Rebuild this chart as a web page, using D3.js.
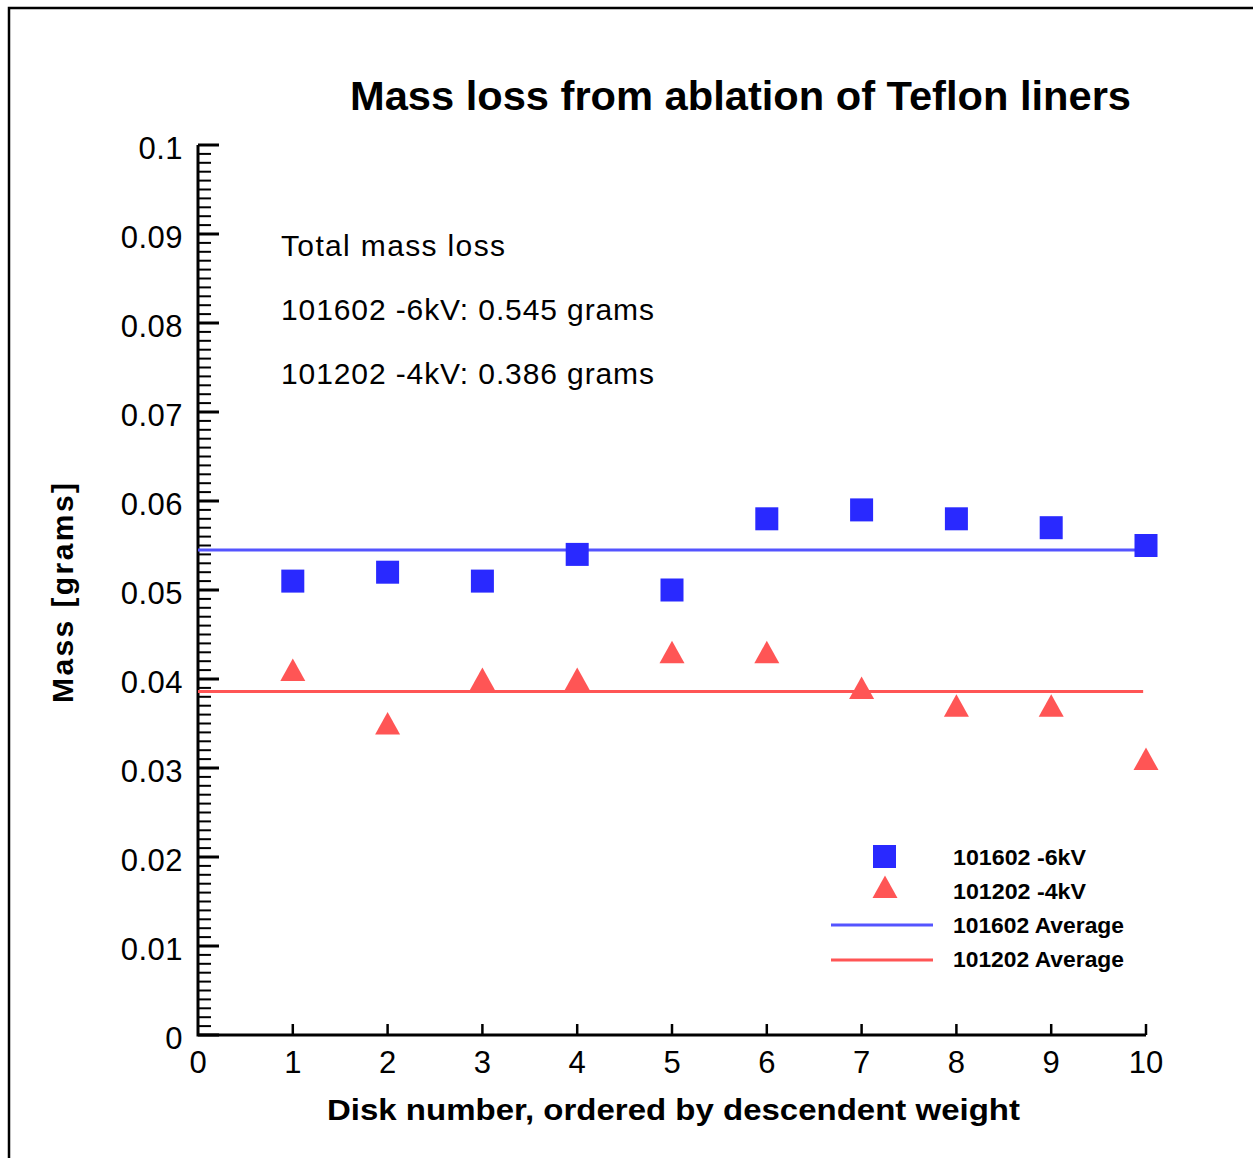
<!DOCTYPE html>
<html>
<head>
<meta charset="utf-8">
<script src="https://cdn.jsdelivr.net/npm/d3@7"></script>
<style>
  html, body { margin: 0; padding: 0; background: #fff; }
  svg { display: block; }
  text { font-family: "Liberation Sans", Arial, Helvetica, sans-serif; fill: #000; }
</style>
</head>
<body>
<svg id="chart" width="1253" height="1158"></svg>
<script>
// Disk numbers (ordered by descending weight)
const disks = [1, 2, 3, 4, 5, 6, 7, 8, 9, 10];
// Mass lost per disk, grams
const mass6kV = [0.051, 0.052, 0.051, 0.054, 0.050, 0.058, 0.059, 0.058, 0.057, 0.055];
const mass4kV = [0.041, 0.035, 0.040, 0.040, 0.043, 0.043, 0.039, 0.037, 0.037, 0.031];
// Axis ticks
const xTicks = [0, 1, 2, 3, 4, 5, 6, 7, 8, 9, 10];
const yTicks = [0, 0.01, 0.02, 0.03, 0.04, 0.05, 0.06, 0.07, 0.08, 0.09, 0.1];
const seriesNames = ["101602 -6kV", "101202 -4kV", "101602 Average", "101202 Average"];

const blueMarker = "#2929ff", blueLine = "#5454ff";
const redMarker = "#ff5555", redLine = "#ff5555";

const svg = d3.select("#chart");

// outer frame (only left and top edges fall inside the page)
svg.append("rect")
  .attr("x", 9).attr("y", 8).attr("width", 1400).attr("height", 1400)
  .attr("fill", "none").attr("stroke", "#000").attr("stroke-width", 2.5);

const x = d3.scaleLinear().domain([0, 10]).range([198, 1146]);
const y = d3.scaleLinear().domain([0, 0.1]).range([1035, 145]);

// title
svg.append("text")
  .attr("x", 350).attr("y", 110)
  .attr("font-size", 40).attr("font-weight", "bold")
  .attr("textLength", 781).attr("lengthAdjust", "spacingAndGlyphs")
  .text("Mass loss from ablation of Teflon liners");

// y axis: minor ticks every 0.001
const yMinor = d3.range(0, 101).map(i => i / 1000).filter(v => Math.round(v * 1000) % 10 !== 0);
const gy = svg.append("g");
gy.selectAll("line.minor").data(yMinor).join("line")
  .attr("x1", x(0)).attr("x2", x(0) + 13)
  .attr("y1", d => y(d)).attr("y2", d => y(d))
  .attr("stroke", "#000").attr("stroke-width", 2);
gy.selectAll("line.major").data(yTicks).join("line")
  .attr("x1", x(0)).attr("x2", x(0) + 21)
  .attr("y1", d => y(d)).attr("y2", d => y(d))
  .attr("stroke", "#000").attr("stroke-width", 3);
gy.selectAll("text").data(yTicks).join("text")
  .attr("x", 183).attr("y", d => y(d) + 13.5)
  .attr("text-anchor", "end").attr("font-size", 31)
  .attr("letter-spacing", 0.5)
  .text(d => d3.format("")(+d.toFixed(2)));

// x axis ticks point into the plot
const gx = svg.append("g");
gx.selectAll("line").data(xTicks.slice(1)).join("line")
  .attr("x1", d => x(d)).attr("x2", d => x(d))
  .attr("y1", y(0)).attr("y2", y(0) - 11)
  .attr("stroke", "#000").attr("stroke-width", 2.5);
gx.selectAll("text").data(xTicks).join("text")
  .attr("x", d => x(d)).attr("y", y(0) + 38)
  .attr("text-anchor", "middle").attr("font-size", 31)
  .text(d => d);

// axis lines
svg.append("path")
  .attr("d", `M${x(0)},${y(0.1)}V${y(0)}H${x(10)}`)
  .attr("fill", "none").attr("stroke", "#000").attr("stroke-width", 3)
  .attr("stroke-linejoin", "miter");

// axis titles
svg.append("text")
  .attr("x", 327).attr("y", 1120)
  .attr("font-size", 30).attr("font-weight", "bold")
  .attr("textLength", 693).attr("lengthAdjust", "spacingAndGlyphs")
  .text("Disk number, ordered by descendent weight");

svg.append("text")
  .attr("transform", "translate(73,703) rotate(-90)")
  .attr("font-size", 30).attr("font-weight", "bold")
  .attr("textLength", 220).attr("lengthAdjust", "spacing")
  .text("Mass [grams]");

// totals annotation
const fmt3 = d3.format(".3f");
const total6 = d3.sum(mass6kV), total4 = d3.sum(mass4kV);
const notes = [
  "Total mass loss",
  `101602 -6kV: ${fmt3(total6)} grams`,
  `101202 -4kV: ${fmt3(total4)} grams`
];
const noteWidths = [224, 373, 373];
svg.selectAll("text.note").data(notes).join("text")
  .attr("class", "note")
  .attr("x", 281).attr("y", (d, i) => 256 + i * 64)
  .attr("font-size", 30)
  .attr("textLength", (d, i) => noteWidths[i]).attr("lengthAdjust", "spacing")
  .text(d => d);

// average lines
const avg6 = d3.mean(mass6kV), avg4 = d3.mean(mass4kV);
const avgLine = d3.line().x(d => x(d[0])).y(d => y(d[1]));
svg.append("path").attr("d", avgLine([[0, avg6], [9.97, avg6]]))
  .attr("stroke", blueLine).attr("stroke-width", 3).attr("fill", "none");
svg.append("path").attr("d", avgLine([[0, avg4], [9.97, avg4]]))
  .attr("stroke", redLine).attr("stroke-width", 3).attr("fill", "none");

// markers
const sq = 23;
svg.selectAll("rect.m6").data(disks).join("rect")
  .attr("class", "m6")
  .attr("x", (d, i) => x(d) - sq / 2).attr("y", (d, i) => y(mass6kV[i]) - sq / 2)
  .attr("width", sq).attr("height", sq)
  .attr("fill", blueMarker);

const tri = (cx, cy) => `M${cx},${cy - 11.5}L${cx + 12.5},${cy + 11}L${cx - 12.5},${cy + 11}Z`;
svg.selectAll("path.m4").data(disks).join("path")
  .attr("class", "m4")
  .attr("d", (d, i) => tri(x(d), y(mass4kV[i])))
  .attr("fill", redMarker);

// legend
const lg = svg.append("g");
lg.append("rect").attr("x", 873).attr("y", 845).attr("width", sq).attr("height", sq).attr("fill", blueMarker);
lg.append("path").attr("d", tri(885, 887)).attr("fill", redMarker);
lg.append("line").attr("x1", 831).attr("x2", 933).attr("y1", 925).attr("y2", 925)
  .attr("stroke", blueLine).attr("stroke-width", 3);
lg.append("line").attr("x1", 831).attr("x2", 933).attr("y1", 960).attr("y2", 960)
  .attr("stroke", redLine).attr("stroke-width", 3);
const legendY = [865, 899, 933, 967];
const legendW = [133, 133, 171, 171];
lg.selectAll("text").data(seriesNames).join("text")
  .attr("x", 953).attr("y", (d, i) => legendY[i])
  .attr("font-size", 22).attr("font-weight", "bold")
  .attr("textLength", (d, i) => legendW[i]).attr("lengthAdjust", "spacingAndGlyphs")
  .text(d => d);
</script>
</body>
</html>
